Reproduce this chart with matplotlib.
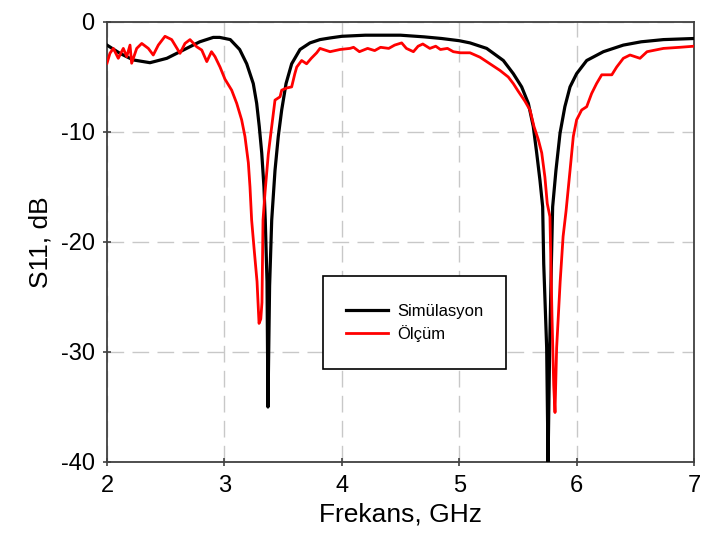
import matplotlib
matplotlib.use("Agg")
import matplotlib.pyplot as plt
from matplotlib.patches import Rectangle

# Simulated S11
sim_f = [2.00, 2.11, 2.224, 2.366, 2.51, 2.65, 2.79, 2.905, 2.96, 3.005, 3.05,
         3.13, 3.19, 3.246, 3.275, 3.297, 3.318, 3.337, 3.348, 3.363, 3.371,
         3.385, 3.403, 3.431, 3.459, 3.488, 3.525, 3.573, 3.644, 3.729, 3.814,
         3.90, 4.00, 4.20, 4.50, 4.70, 4.85, 5.00, 5.092, 5.234, 5.376, 5.461,
         5.532, 5.589, 5.631, 5.66, 5.688, 5.711, 5.72, 5.745, 5.757, 5.77,
         5.785, 5.796, 5.824, 5.859, 5.90, 5.944, 6.00, 6.086, 6.228, 6.398,
         6.55, 6.74, 7.00]
sim_db = [-2.1, -2.85, -3.45, -3.7, -3.3, -2.55, -1.8, -1.4, -1.4, -1.5, -1.6,
          -2.5, -3.8, -5.6, -7.4, -9.5, -11.9, -15.0, -18.0, -23.6, -35.0,
          -24.0, -18.0, -13.5, -10.4, -8.0, -5.6, -3.8, -2.5, -1.9, -1.6,
          -1.45, -1.3, -1.2, -1.2, -1.35, -1.5, -1.7, -1.9, -2.4, -3.5, -4.7,
          -5.9, -7.4, -9.5, -11.9, -14.4, -16.8, -22.0, -29.6, -40.0, -30.0,
          -22.0, -16.8, -13.5, -10.1, -7.7, -5.9, -4.7, -3.5, -2.7, -2.1,
          -1.8, -1.6, -1.5]

# Measured S11
meas_f = [2.00, 2.025, 2.054, 2.096, 2.139, 2.168, 2.196, 2.21, 2.253, 2.296,
          2.352, 2.394, 2.437, 2.494, 2.551, 2.622, 2.664, 2.707, 2.764, 2.807,
          2.85, 2.89, 2.92, 2.963, 3.005, 3.062, 3.105, 3.147, 3.175, 3.204,
          3.218, 3.232, 3.252, 3.278, 3.295, 3.31, 3.32, 3.329, 3.346, 3.374,
          3.403, 3.431, 3.474, 3.488, 3.53, 3.573, 3.60, 3.616, 3.658, 3.70,
          3.74, 3.786, 3.814, 3.90, 3.985, 4.07, 4.10, 4.15, 4.22, 4.28, 4.33,
          4.40, 4.45, 4.51, 4.55, 4.61, 4.65, 4.69, 4.75, 4.80, 4.84, 4.90,
          4.95, 5.01, 5.092, 5.177, 5.262, 5.347, 5.418, 5.461, 5.503, 5.56,
          5.603, 5.637, 5.674, 5.703, 5.73, 5.75, 5.773, 5.79, 5.805, 5.816,
          5.83, 5.86, 5.885, 5.91, 5.944, 5.972, 6.00, 6.043, 6.086, 6.128,
          6.17, 6.214, 6.30, 6.341, 6.398, 6.455, 6.54, 6.60, 6.74, 6.88, 7.00]
meas_db = [-3.75, -2.85, -2.4, -3.3, -2.4, -3.15, -2.1, -3.75, -2.4, -1.95,
           -2.4, -3.0, -2.1, -1.3, -1.6, -2.85, -1.95, -1.6, -2.25, -2.55,
           -3.6, -2.7, -3.15, -4.1, -5.2, -6.2, -7.4, -8.9, -10.4, -12.8,
           -15.0, -18.0, -20.5, -23.6, -27.4, -27.0, -25.5, -18.0, -15.5, -12.0,
           -9.5, -7.1, -6.8, -6.2, -6.0, -5.9, -4.7, -4.1, -3.5, -3.8,
           -3.3, -2.8, -2.4, -2.7, -2.5, -2.4, -2.3, -2.7, -2.4, -2.6, -2.3,
           -2.4, -2.1, -1.9, -2.4, -2.7, -2.2, -2.0, -2.4, -2.2, -2.5, -2.4,
           -2.7, -2.8, -2.8, -3.2, -3.8, -4.4, -5.0, -5.6, -6.3, -7.2,
           -8.0, -9.5, -10.7, -11.9, -14.1, -16.5, -17.7, -26.6, -33.0, -35.5,
           -29.6, -23.6, -19.5, -17.2, -13.5, -10.4, -8.9, -8.0, -7.7, -6.5,
           -5.6, -4.8, -4.8, -4.1, -3.3, -3.0, -3.3, -2.7, -2.4, -2.3, -2.2]

x_ticks = [2, 3, 4, 5, 6, 7]
y_ticks = [0, -10, -20, -30, -40]

plt.rcParams["font.family"] = ["Liberation Sans", "DejaVu Sans"]
plt.rcParams["axes.unicode_minus"] = False

fig = plt.figure(figsize=(7.02, 5.45), dpi=100)
ax = fig.add_axes([107 / 702, 1 - 462 / 545, 587 / 702, 440 / 545])

ax.plot(sim_f, sim_db, color="black", linewidth=2.3, label="Simülasyon", zorder=3)
ax.plot(meas_f, meas_db, color="#ff0000", linewidth=2.0, label="Ölçüm", zorder=3)

ax.set_xlim(2, 7)
ax.set_ylim(-40, 0)
ax.set_xticks(x_ticks)
ax.set_yticks(y_ticks)
ax.tick_params(direction="inout", length=6, width=1.2, color="#404040",
               labelsize=17, pad=6)
for s in ax.spines.values():
    s.set_color("#404040")
    s.set_linewidth(1.3)
ax.grid(True, color="#c8c8c8", linewidth=1.0, linestyle=(0, (12, 6)))
ax.set_axisbelow(True)

ax.set_xlabel("Frekans, GHz", fontsize=19, labelpad=4)
ax.set_ylabel("S11, dB", fontsize=19, labelpad=6)

# legend box (drawn by hand to match the reference frame size)
box = Rectangle((323 / 702, 1 - 369 / 545), 183 / 702, 93 / 545,
                transform=fig.transFigure, facecolor="white", edgecolor="black",
                linewidth=1.2, zorder=5)
fig.patches.append(box)
leg = fig.legend(loc="center", bbox_to_anchor=(414.5 / 702, 1 - 323 / 545),
                 frameon=False, fontsize=12, handlelength=2.5, handletextpad=0.55,
                 labelspacing=0.35)
leg.set_zorder(6)

fig.savefig("out.png", dpi=100)
